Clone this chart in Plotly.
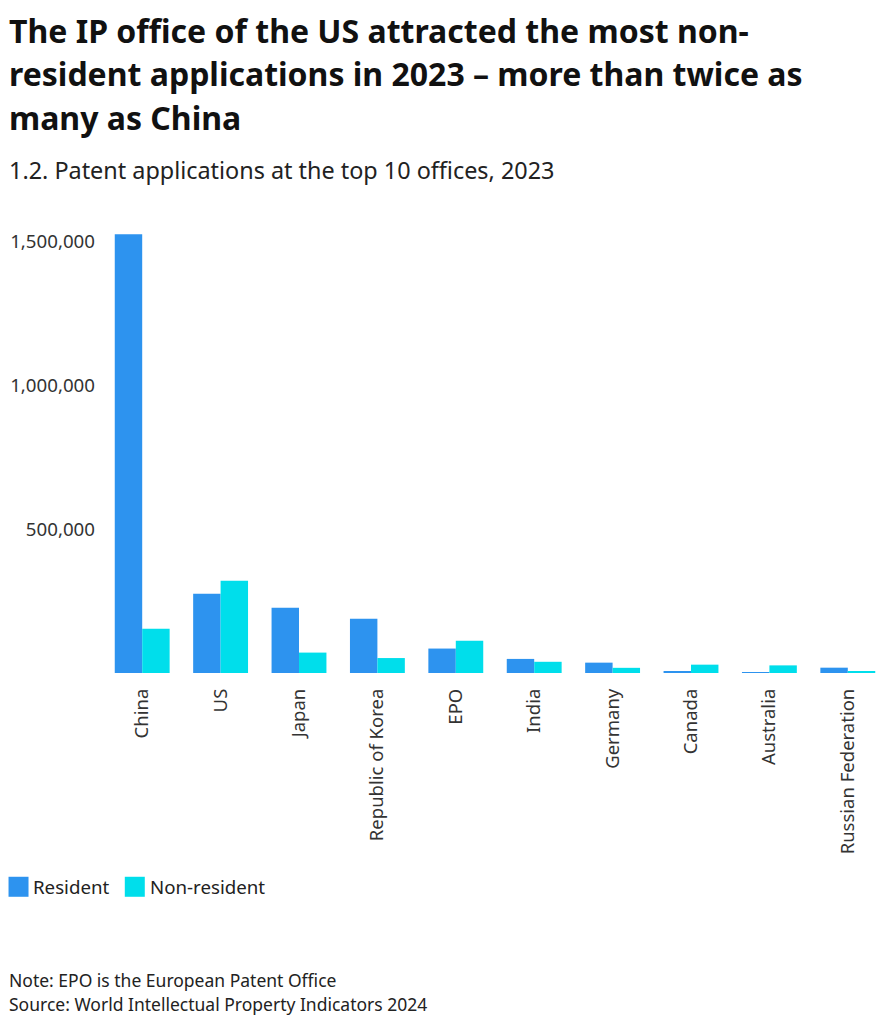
import plotly.graph_objects as go

offices = ["China", "US", "Japan", "Republic of Korea", "EPO", "India",
           "Germany", "Canada", "Australia", "Russian Federation"]
resident = [1526000, 276000, 227000, 189000, 85000, 49000, 36000, 4500, 2000, 18500]
non_resident = [154000, 321000, 71000, 52000, 112000, 39000, 18000, 29000, 26500, 4500]

y_tickvals = [500000, 1000000, 1500000]
y_ticktext = ["500,000", "1,000,000", "1,500,000"]

title_lines = ["The IP office of the US attracted the most non-",
               "resident applications in 2023 – more than twice as",
               "many as China"]
subtitle = "1.2. Patent applications at the top 10 offices, 2023"
note = "Note: EPO is the European Patent Office"
source = "Source: World Intellectual Property Indicators 2024"

C_RES = "#2D93EF"
C_NON = "#00DEEB"
FONT = "Noto Sans"

W, H = 894, 1024
ML = 94.5
PLOT_RIGHT = 878.7
MR = W - PLOT_RIGHT
Y0_PX = 665.3
PX_PER_M = 287.4
YMAX = 1600000
PLOT_H = PX_PER_M * YMAX / 1e6
MT = Y0_PX - PLOT_H
MB = H - Y0_PX
PW = W - ML - MR


def px_x(px):
    return (px - ML) / PW


def px_y(py):
    return (Y0_PX - py) / PLOT_H


fig = go.Figure()
fig.add_bar(x=offices, y=resident, name="Resident", marker_color=C_RES,
            marker_line_width=0, showlegend=False)
fig.add_bar(x=offices, y=non_resident, name="Non-resident", marker_color=C_NON,
            marker_line_width=0, showlegend=False)

annotations = []
title_mids = [23.5, 66.5, 109.5]
for line, mid in zip(title_lines, title_mids):
    annotations.append(dict(text="<b>" + line + "</b>", x=px_x(-1), y=px_y(mid),
                            xref="paper", yref="paper", xanchor="left", yanchor="middle",
                            showarrow=False, borderpad=0,
                            font=dict(family=FONT, size=32, color="#111111")))
annotations.append(dict(text=subtitle, x=px_x(-1), y=px_y(162), xref="paper", yref="paper",
                        xanchor="left", yanchor="middle", showarrow=False, borderpad=0,
                        font=dict(family=FONT, size=23.4, color="#222222")))
# legend
shapes = []
for x0, tx, label, col in [(0, 23.7, "Resident", C_RES), (116.3, 141, "Non-resident", C_NON)]:
    shapes.append(dict(type="rect", xref="paper", yref="paper",
                       x0=px_x(x0), x1=px_x(x0 + 20), y0=px_y(889), y1=px_y(869),
                       fillcolor=col, line_width=0))
    annotations.append(dict(text=label, x=px_x(tx), y=px_y(879), xref="paper", yref="paper",
                            xanchor="left", yanchor="middle", showarrow=False, borderpad=0,
                            font=dict(family=FONT, size=18.7, color="#222222")))
annotations.append(dict(text=note, x=px_x(-1), y=px_y(972.5), xref="paper", yref="paper",
                        xanchor="left", yanchor="middle", showarrow=False, borderpad=0,
                        font=dict(family=FONT, size=17.5, color="#222222")))
annotations.append(dict(text=source, x=px_x(-1), y=px_y(995.8), xref="paper", yref="paper",
                        xanchor="left", yanchor="middle", showarrow=False, borderpad=0,
                        font=dict(family=FONT, size=17.5, color="#222222")))

fig.update_layout(
    width=W, height=H,
    margin=dict(l=ML, r=MR, t=MT, b=MB, autoexpand=False),
    paper_bgcolor="white", plot_bgcolor="white",
    barmode="group", bargap=0.3, bargroupgap=0,
    font=dict(family=FONT, color="#222222"),
    annotations=annotations, shapes=shapes,
    xaxis=dict(tickangle=-90, showgrid=False, showline=False, zeroline=False,
               tickfont=dict(family=FONT, size=18.5, color="#333333"), ticks="",
               ticklabelstandoff=11),
    yaxis=dict(range=[0, YMAX], tickvals=y_tickvals, ticktext=y_ticktext,
               showgrid=False, showline=False, zeroline=False, ticks="",
               tickfont=dict(family=FONT, size=18.7, color="#333333"),
               ticklabelstandoff=7),
)

fig.write_html("out.html")
